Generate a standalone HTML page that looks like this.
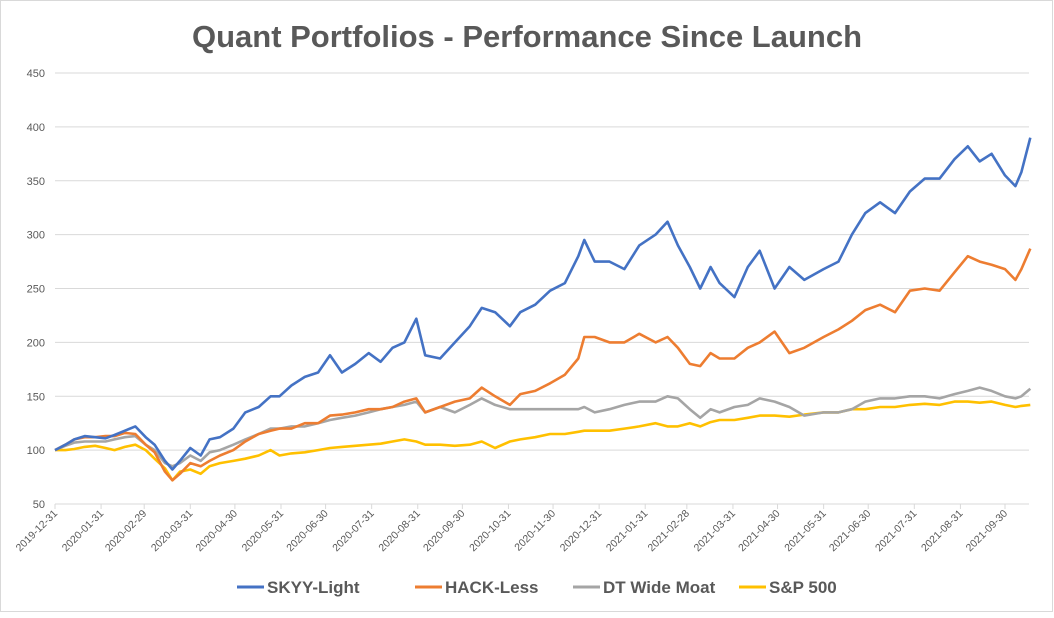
<!DOCTYPE html>
<html><head><meta charset="utf-8"><style>
body{margin:0;background:#fff;font-family:"Liberation Sans",sans-serif}
#wrap{position:relative;width:1054px;height:613px}
</style></head><body>
<div id="wrap">
<svg id="svg" width="1054" height="613" xmlns="http://www.w3.org/2000/svg">
<rect x="0.5" y="0.5" width="1052" height="611" fill="#fff" stroke="#d9d9d9"/>
<text x="527" y="47" text-anchor="middle" font-size="31" font-weight="bold" fill="#595959" font-family="Liberation Sans, sans-serif">Quant Portfolios - Performance Since Launch</text>
<g id="grid"></g><g id="xaxis"></g><g id="series"></g><g id="legend"></g>
</svg></div>
<script>
const days=[0,7,13,20,27,34,40,47,54,61,67,74,79,84,91,98,104,111,120,128,137,145,151,159,168,177,185,193,202,211,219,227,235,243,249,259,269,279,287,296,306,313,323,333,343,352,356,363,373,383,393,404,412,419,427,434,441,447,457,466,474,484,494,504,517,527,536,545,555,565,575,585,595,605,614,622,630,639,646,650,656];
const skyy=[100,105,110,113,112,111,114,118,122,112,105,90,82,90,102,95,110,112,120,135,140,150,150,160,168,172,188,172,180,190,182,195,200,222,188,185,200,215,232,228,215,228,235,248,255,280,295,275,275,268,290,300,312,290,270,250,270,255,242,270,285,250,270,258,268,275,300,320,330,320,340,352,352,370,382,368,375,355,345,358,390];
const hack=[100,105,110,112,112,113,113,116,115,105,98,80,72,78,88,85,90,95,100,108,115,118,120,120,125,125,132,133,135,138,138,140,145,148,135,140,145,148,158,150,142,152,155,162,170,185,205,205,200,200,208,200,205,195,180,178,190,185,185,195,200,210,190,195,205,212,220,230,235,228,248,250,248,265,280,275,272,268,258,268,287];
const dtwm=[100,104,107,108,108,108,110,112,113,105,100,88,85,88,95,90,98,100,105,110,115,120,120,122,122,125,128,130,132,135,138,140,142,145,135,140,135,142,148,142,138,138,138,138,138,138,140,135,138,142,145,145,150,148,138,130,138,135,140,142,148,145,140,132,135,135,138,145,148,148,150,150,148,152,155,158,155,150,148,150,157];
const sp=[100,100,101,103,104,102,100,103,105,100,92,83,72,80,82,78,85,88,90,92,95,100,95,97,98,100,102,103,104,105,106,108,110,108,105,105,104,105,108,102,108,110,112,115,115,117,118,118,118,120,122,125,122,122,125,122,126,128,128,130,132,132,131,133,135,135,138,138,140,140,142,143,142,145,145,144,145,142,140,141,142];
const yTicks=[50,100,150,200,250,300,350,400,450];
const xTickLabels=["2019-12-31","2020-01-31","2020-02-29","2020-03-31","2020-04-30","2020-05-31","2020-06-30","2020-07-31","2020-08-31","2020-09-30","2020-10-31","2020-11-30","2020-12-31","2021-01-31","2021-02-28","2021-03-31","2021-04-30","2021-05-31","2021-06-30","2021-07-31","2021-08-31","2021-09-30"];
const seriesNames=["SKYY-Light","HACK-Less","DT Wide Moat","S&P 500"];
const colors=["#4472c4","#ed7d31","#a5a5a5","#ffc000"];
const NS="http://www.w3.org/2000/svg";
const x0=55,pxPerDay=950/639,plotRight=1029;
const X=d=>x0+d*pxPerDay;
const Y=v=>504-(v-50)*1.0775;
const base=Date.UTC(2019,11,31);
const dayOf=s=>(Date.parse(s+"T00:00:00Z")-base)/86400000;
function mk(t,a,p){const e=document.createElementNS(NS,t);for(const k in a)e.setAttribute(k,a[k]);p.appendChild(e);return e;}
const grid=document.getElementById('grid');
yTicks.forEach(v=>{
 const l=mk('line',{x1:x0,x2:plotRight,y1:Y(v),y2:Y(v),stroke:'#d9d9d9','stroke-width':1},grid);
 
 
 const t=mk('text',{x:45,y:Y(v)+4,'text-anchor':'end','font-size':11,fill:'#595959'},grid);
 t.textContent=v;
 
 
});
const xa=document.getElementById('xaxis');
xTickLabels.forEach(s=>{
 const x=X(dayOf(s));
 const tk=mk('line',{x1:x,x2:x,y1:504,y2:509,stroke:'#d9d9d9'},xa);
 
 
 const t=mk('text',{x:x+3,y:514,'text-anchor':'end','font-size':10.5,fill:'#595959',transform:`rotate(-45 ${x+3} 514)`},xa);
 t.textContent=s;
 
 
});
const sg=document.getElementById('series');
[skyy,hack,dtwm,sp].slice().reverse().forEach((vals,ri)=>{
 const i=3-ri;
 const pts=vals.map((v,j)=>X(days[j]).toFixed(1)+','+Y(v).toFixed(1)).join(' ');
 const p=mk('polyline',{points:pts,fill:'none',stroke:colors[i],'stroke-width':2.6,'stroke-linejoin':'round'},sg);
 
 
});
const lg=document.getElementById('legend');
const lx=[237,415,573,739];
seriesNames.forEach((n,i)=>{
 const g=mk('g',{},lg);
 
 
 mk('line',{x1:lx[i],x2:lx[i]+27,y1:587,y2:587,stroke:colors[i],'stroke-width':3},g);
 const t=mk('text',{x:lx[i]+30,y:593,'font-size':17,'font-weight':'bold',fill:'#595959'},g);
 t.textContent=n;
});
</script>
</body></html>
